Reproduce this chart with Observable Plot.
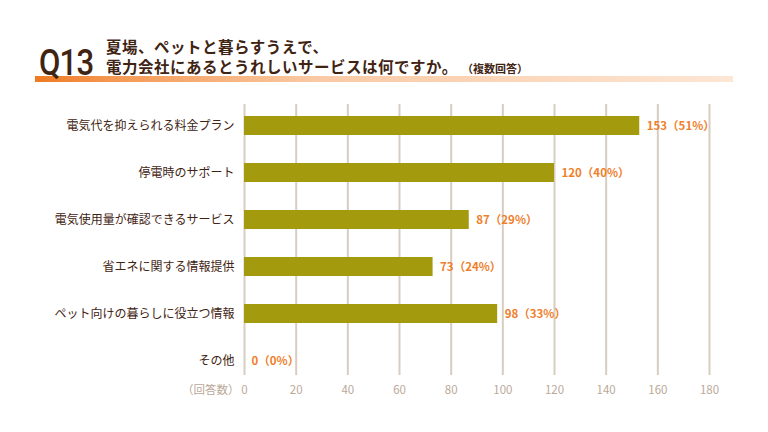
<!DOCTYPE html>
<html><head><meta charset="utf-8">
<script src="https://cdn.jsdelivr.net/npm/d3@7"></script>
<script src="https://cdn.jsdelivr.net/npm/@observablehq/plot@0.6"></script>
<style>
html,body{margin:0;padding:0;background:#fff;width:768px;height:432px;overflow:hidden;font-family:"Noto Sans CJK JP","Noto Sans",sans-serif;}
#hdr{position:absolute;left:0;top:0;width:768px;height:95px;}
#q{position:absolute;left:39px;top:41px;font-family:"Roboto","Noto Sans",sans-serif;font-size:37px;font-weight:500;color:#3f2413;letter-spacing:-1px;transform:scaleX(0.84);transform-origin:left top;line-height:44px;}
#t1{position:absolute;left:106px;top:38px;font-size:15.5px;font-weight:700;color:#3f2413;line-height:16px;white-space:nowrap;letter-spacing:0.5px;}
#t2{position:absolute;left:106px;top:58px;font-size:15.5px;font-weight:700;color:#3f2413;line-height:16px;white-space:nowrap;letter-spacing:0.5px;}
#t3{position:absolute;left:462px;top:62px;font-size:11px;font-weight:700;color:#3f2413;line-height:12px;white-space:nowrap;}
#band{position:absolute;left:35px;top:76px;width:698px;height:6px;background:linear-gradient(to right,#ef7a22 0%,#f49a56 12%,#f9c9a3 40%,#fde6d4 100%);}
#chart{position:absolute;left:0;top:95px;}
</style></head>
<body>
<div id="hdr">
<div id="band"></div>
<div id="q">Q13</div>
<div id="t1">夏場、ペットと暮らすうえで、</div>
<div id="t2">電力会社にあるとうれしいサービスは何ですか。</div>
<div id="t3">（複数回答）</div>
</div>
<div id="chart"></div>
<script>
const categories = ["電気代を抑えられる料金プラン","停電時のサポート","電気使用量が確認できるサービス","省エネに関する情報提供","ペット向けの暮らしに役立つ情報","その他"];
const counts = [153,120,87,73,98,0];
const percents = [51,40,29,24,33,0];
const xTicks = [0,20,40,60,80,100,120,140,160,180];
const axisUnit = "（回答数）";

const data = categories.map((c,i)=>({cat:c,n:counts[i],p:percents[i]}));

const chart = Plot.plot({
  width:768, height:310,
  marginLeft:244, marginRight:59, marginTop:9, marginBottom:30,
  style:{fontFamily:'"Noto Sans CJK JP","Noto Sans",sans-serif',background:"transparent"},
  x:{domain:[0,180], ticks:xTicks},
  y:{domain:categories, paddingInner:0.6, paddingOuter:0.158, align:0.67},
  marks:[
    Plot.ruleX(xTicks,{stroke:"#d8cdc1",strokeWidth:2}),
    Plot.barX(data,{y:"cat",x:"n",fill:"#a39a0e"}),
    Plot.text(data,{y:"cat",x:"n",text:d=>`${d.n}（${d.p}%）`,dx:7,textAnchor:"start",fill:"#ef7f2c",fontWeight:"bold",fontSize:11.5}),
    Plot.axisX({ticks:xTicks,tickSize:0,tickPadding:10,label:null,fill:"#bba999",fontSize:11.5}),
    Plot.axisY({tickSize:0,tickPadding:10,label:null,fill:"#3f2413",fontSize:12}),
    Plot.text([axisUnit],{x:()=>0,frameAnchor:"bottom",dy:18,dx:-5,textAnchor:"end",fill:"#bba999",fontSize:11.5})
  ]
});
document.getElementById("chart").appendChild(chart);
</script>
</body></html>
